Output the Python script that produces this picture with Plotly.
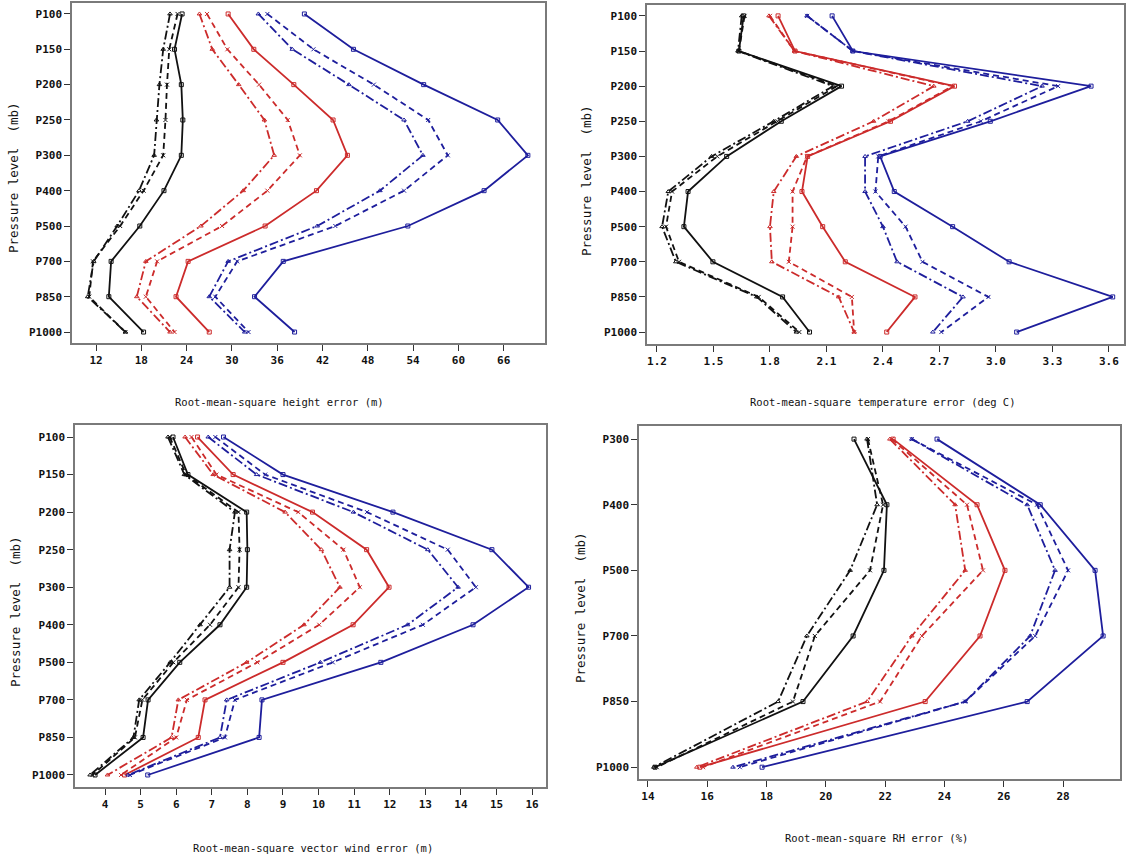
import plotly.graph_objects as go

W, H = 1127, 862

# Pressure levels (category axes)
levels_upper = ["P100", "P150", "P200", "P250", "P300", "P400", "P500", "P700", "P850", "P1000"]
levels_rh = ["P300", "P400", "P500", "P700", "P850", "P1000"]

# Root-mean-square height error (m)
height_black_solid = [23.4, 22.4, 23.3, 23.5, 23.3, 21.0, 17.8, 14.0, 13.7, 18.3]
height_black_dash = [22.8, 21.7, 21.4, 21.2, 20.9, 18.3, 15.2, 11.6, 11.1, 15.9]
height_black_dashdot = [21.8, 20.9, 20.4, 20.0, 19.7, 17.7, 14.8, 11.7, 10.9, 15.9]
height_red_solid = [29.5, 32.9, 38.2, 43.4, 45.3, 41.2, 34.4, 24.2, 22.6, 27.0]
height_red_dash = [26.7, 29.4, 33.6, 37.4, 39.0, 34.7, 28.7, 20.1, 18.6, 22.4]
height_red_dashdot = [25.7, 27.4, 30.9, 34.3, 35.6, 31.5, 25.9, 18.6, 17.4, 21.8]
height_blue_solid = [39.6, 46.1, 55.4, 65.2, 69.2, 63.4, 53.3, 36.8, 33.0, 38.3]
height_blue_dash = [34.7, 40.8, 48.8, 56.0, 58.6, 52.8, 43.7, 30.7, 27.8, 32.2]
height_blue_dashdot = [33.5, 38.0, 45.5, 52.8, 55.3, 49.6, 41.3, 29.5, 27.0, 31.7]

# Root-mean-square temperature error (deg C)
temp_black_solid = [1.66, 1.635, 2.18, 1.86, 1.57, 1.365, 1.343, 1.497, 1.867, 2.01]
temp_black_dash = [1.665, 1.635, 2.155, 1.84, 1.52, 1.28, 1.248, 1.317, 1.74, 1.956]
temp_black_dashdot = [1.65, 1.63, 2.135, 1.82, 1.49, 1.26, 1.227, 1.30, 1.73, 1.94]
temp_red_solid = [1.843, 1.933, 2.78, 2.44, 2.0, 1.97, 2.08, 2.2, 2.57, 2.42]
temp_red_dash = [1.80, 1.93, 2.77, 2.43, 1.997, 1.92, 1.92, 1.90, 2.235, 2.247]
temp_red_dashdot = [1.795, 1.93, 2.67, 2.35, 1.94, 1.82, 1.80, 1.81, 2.165, 2.247]
temp_blue_solid = [2.13, 2.24, 3.505, 2.97, 2.385, 2.46, 2.77, 3.07, 3.62, 3.11]
temp_blue_dash = [1.997, 2.24, 3.33, 2.92, 2.375, 2.36, 2.52, 2.61, 2.96, 2.71]
temp_blue_dashdot = [1.997, 2.24, 3.245, 2.85, 2.305, 2.305, 2.40, 2.475, 2.825, 2.665]

# Root-mean-square vector wind error
wind_black_solid = [5.91, 6.33, 7.98, 8.0, 7.98, 7.23, 6.1, 5.21, 5.07, 3.72]
wind_black_dash = [5.82, 6.28, 7.75, 7.78, 7.75, 6.95, 5.92, 5.05, 4.84, 3.65]
wind_black_dashdot = [5.77, 6.23, 7.65, 7.5, 7.5, 6.67, 5.83, 4.96, 4.8, 3.58]
wind_red_solid = [6.6, 7.6, 9.83, 11.35, 11.98, 10.97, 9.0, 6.81, 6.62, 4.55]
wind_red_dash = [6.43, 7.13, 9.43, 10.7, 11.16, 10.02, 8.28, 6.3, 6.0, 4.45]
wind_red_dashdot = [6.25, 7.04, 9.06, 10.08, 10.6, 9.59, 7.98, 6.06, 5.87, 4.07]
wind_blue_solid = [7.33, 9.0, 12.09, 14.87, 15.9, 14.34, 11.75, 8.41, 8.33, 5.2]
wind_blue_dash = [7.1, 8.5, 11.36, 13.63, 14.42, 12.93, 10.4, 7.65, 7.37, 4.7]
wind_blue_dashdot = [6.9, 8.26, 10.98, 13.07, 13.92, 12.5, 10.05, 7.42, 7.23, 4.65]

# Root-mean-square RH error (%)
rh_black_solid = [20.95, 22.06, 21.96, 20.92, 19.23, 14.24]
rh_black_dash = [21.42, 21.93, 21.49, 19.63, 18.89, 14.3]
rh_black_dashdot = [21.39, 21.73, 20.82, 19.36, 18.39, 14.2]
rh_red_solid = [22.27, 25.1, 26.04, 25.2, 23.35, 15.75]
rh_red_dash = [22.23, 24.76, 25.3, 23.24, 21.83, 15.86]
rh_red_dashdot = [22.16, 24.36, 24.7, 22.9, 21.39, 15.65]
rh_blue_solid = [23.75, 27.23, 29.08, 29.35, 26.79, 17.85]
rh_blue_dash = [22.9, 27.12, 28.17, 27.06, 24.7, 17.1]
rh_blue_dashdot = [22.9, 26.79, 27.73, 26.89, 24.7, 16.87]

# tick values for the x axes
height_ticks = [12, 18, 24, 30, 36, 42, 48, 54, 60, 66]
temp_ticks = [1.2, 1.5, 1.8, 2.1, 2.4, 2.7, 3.0, 3.3, 3.6]
temp_ticktext = ["1.2", "1.5", "1.8", "2.1", "2.4", "2.7", "3.0", "3.3", "3.6"]
wind_ticks = [4, 5, 6, 7, 8, 9, 10, 11, 12, 13, 14, 15, 16]
rh_ticks = [14, 16, 18, 20, 22, 24, 26, 28]

BLACK = "#111111"
RED = "#cc2b2b"
BLUE = "#1e1e9c"
DASH = "6px,4px"
DASHDOT = "9px,3px,2px,3px"

STYLES = [("solid", "square-open"), (DASH, "x-thin-open"), (DASHDOT, "triangle-up-open")]

fig = go.Figure()


def add_panel(idx, levels, series):
    xa = "x" if idx == 1 else f"x{idx}"
    ya = "y" if idx == 1 else f"y{idx}"
    for color, group in series:
        for (dash, sym), values in zip(STYLES, group):
            fig.add_trace(go.Scatter(
                x=values, y=levels, mode="lines+markers",
                line=dict(color=color, width=1.8, dash=dash),
                marker=dict(symbol=sym, size=4, color=color, line=dict(width=1, color=color)),
                xaxis=xa, yaxis=ya, showlegend=False, hoverinfo="x+y",
            ))


add_panel(1, levels_upper, [
    (BLACK, [height_black_solid, height_black_dash, height_black_dashdot]),
    (RED, [height_red_solid, height_red_dash, height_red_dashdot]),
    (BLUE, [height_blue_solid, height_blue_dash, height_blue_dashdot]),
])
add_panel(2, levels_upper, [
    (BLACK, [temp_black_solid, temp_black_dash, temp_black_dashdot]),
    (RED, [temp_red_solid, temp_red_dash, temp_red_dashdot]),
    (BLUE, [temp_blue_solid, temp_blue_dash, temp_blue_dashdot]),
])
add_panel(3, levels_upper, [
    (BLACK, [wind_black_solid, wind_black_dash, wind_black_dashdot]),
    (RED, [wind_red_solid, wind_red_dash, wind_red_dashdot]),
    (BLUE, [wind_blue_solid, wind_blue_dash, wind_blue_dashdot]),
])
add_panel(4, levels_rh, [
    (BLACK, [rh_black_solid, rh_black_dash, rh_black_dashdot]),
    (RED, [rh_red_solid, rh_red_dash, rh_red_dashdot]),
    (BLUE, [rh_blue_solid, rh_blue_dash, rh_blue_dashdot]),
])

TICK_FONT = dict(family="DejaVu Sans Mono", size=11, color="#111111", weight="bold")
FRAME = "#7a7a7a"


def px_dom(a, b, total):
    return [a / total, b / total]


def y_dom(top, bottom):
    return [1 - bottom / H, 1 - top / H]


def xaxis(dom, rng, ticks, ticktext=None, anchor="y"):
    d = dict(domain=px_dom(*dom, W), range=rng, tickmode="array", tickvals=ticks,
             showline=True, linecolor=FRAME, linewidth=1.5, mirror=True,
             ticks="outside", ticklen=6, tickwidth=1.2, tickcolor="#333333",
             showgrid=False, zeroline=False, tickfont=TICK_FONT, anchor=anchor)
    if ticktext is not None:
        d["ticktext"] = ticktext
    return d


def yaxis(dom, rng, levels, anchor="x"):
    return dict(domain=dom, type="category", categoryorder="array", categoryarray=levels,
                range=rng, showline=True, linecolor=FRAME, linewidth=1.5, mirror=True,
                ticks="outside", ticklen=6, tickwidth=1.2, tickcolor="#333333",
                showgrid=False, zeroline=False, tickfont=TICK_FONT, anchor=anchor)


fig.update_layout(
    width=W, height=H,
    margin=dict(l=0, r=0, t=0, b=0),
    paper_bgcolor="white", plot_bgcolor="white",
    xaxis=xaxis((72, 545), [8.82, 71.47], height_ticks, anchor="y"),
    yaxis=yaxis(y_dom(3, 343), [9.31, -0.31], levels_upper, anchor="x"),
    xaxis2=xaxis((647, 1124), [1.147, 3.68], temp_ticks, temp_ticktext, anchor="y2"),
    yaxis2=yaxis(y_dom(5, 344), [9.34, -0.31], levels_upper, anchor="x2"),
    xaxis3=xaxis((75, 546), [3.157, 16.39], wind_ticks, anchor="y3"),
    yaxis3=yaxis(y_dom(425, 787), [9.32, -0.32], levels_upper, anchor="x3"),
    xaxis4=xaxis((639, 1120), [13.70, 29.92], rh_ticks, anchor="y4"),
    yaxis4=yaxis(y_dom(426, 779), [5.18, -0.2], levels_rh, anchor="x4"),
)

TITLE_FONT = dict(family="DejaVu Sans Mono", size=10.5, color="#111111")
YT_FONT = dict(family="DejaVu Sans Mono", size=12.5, color="#111111")

x_titles = [
    ("Root-mean-square height error (m)", 279, 402),
    ("Root-mean-square temperature error (deg C)", 883, 402),
    ("Root-mean-square vector wind error (m)", 313, 848),
    ("Root-mean-square RH error (%)", 876, 838),
]
for text, cx, cy in x_titles:
    fig.add_annotation(text=text, x=cx / W, y=1 - cy / H, xref="paper", yref="paper",
                       showarrow=False, font=TITLE_FONT, xanchor="center", yanchor="middle")

y_titles = [(13, 178), (586, 181), (15, 612), (580, 608)]
for cx, cy in y_titles:
    fig.add_annotation(text="Pressure level  (mb)", x=cx / W, y=1 - cy / H,
                       xref="paper", yref="paper", showarrow=False, textangle=-90,
                       font=YT_FONT, xanchor="center", yanchor="middle")

fig.write_html("out.html")
